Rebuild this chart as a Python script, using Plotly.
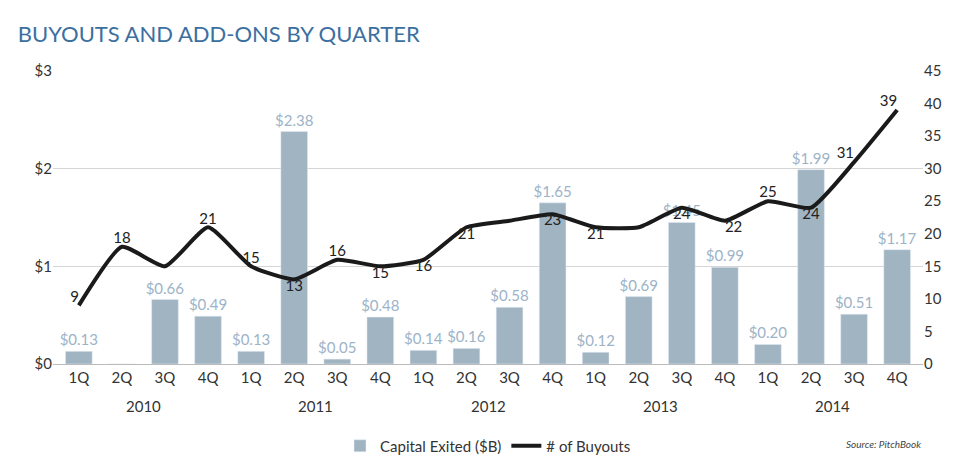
import plotly.graph_objects as go

quarters = ["1Q", "2Q", "3Q", "4Q"] * 5
years = ["2010", "2011", "2012", "2013", "2014"]
capital = [0.13, 0, 0.66, 0.49, 0.13, 2.38, 0.05, 0.48, 0.14, 0.16, 0.58, 1.65,
           0.12, 0.69, 1.45, 0.99, 0.20, 1.99, 0.51, 1.17]
buyouts = [9, 18, 15, 21, 15, 13, 16, 15, 16, 21, 22, 23, 21, 21, 24, 22, 25, 24, 31, 39]
show_lbl = [1, 1, 0, 1, 1, 1, 1, 1, 1, 1, 0, 1, 1, 0, 1, 1, 1, 1, 1, 1]
lbl_pos = ["top left", "top center", "top center", "top center", "top center", "bottom center",
           "top center", "bottom center", "bottom center", "bottom center", "top center",
           "bottom center", "bottom center", "top center", "bottom center", "bottom right",
           "top center", "bottom center", "top left", "top left"]

x = list(range(len(quarters)))
bar_txt = ["" if v == 0 else f"${v:.2f}" for v in capital]

fig = go.Figure()
fig.add_trace(go.Bar(x=x, y=capital, name="Capital Exited ($B)", marker_color="#a1b4c2",
                     width=0.62, text=bar_txt, textposition="outside", cliponaxis=False,
                     constraintext="none",
                     textfont=dict(color="#9db3c7", size=15)))
fig.add_trace(go.Scatter(x=x, y=buyouts, name="# of Buyouts", yaxis="y2", mode="lines+text",
                         line=dict(color="#1a1a1a", width=4, shape="spline", smoothing=0.5),
                         text=[str(b) if s else "" for b, s in zip(buyouts, show_lbl)],
                         textposition=lbl_pos, cliponaxis=False,
                         textfont=dict(color="#222", size=15)))

for i, yr in enumerate(years):
    fig.add_annotation(x=i * 4 + 1.5, y=-0.18, xref="x", yref="paper", text=yr,
                       showarrow=False, font=dict(size=15, color="#333"))
fig.add_annotation(x=1.0, y=-0.3, xref="paper", yref="paper", text="<i>Source: PitchBook</i>",
                   showarrow=False, xanchor="right", font=dict(size=10, color="#444"))

fig.update_layout(
    width=975, height=467, plot_bgcolor="white", paper_bgcolor="white",
    font=dict(family="Lato, Open Sans, sans-serif", color="#333"),
    title=dict(text="BUYOUTS AND ADD-ONS BY QUARTER", x=0.01, y=0.96,
               font=dict(size=22, color="#3b6fa0")),
    margin=dict(l=45, r=60, t=63, b=109),
    bargap=0.38,
    xaxis=dict(tickmode="array", tickvals=x, ticktext=quarters, range=[-0.6, 19.6],
               tickfont=dict(size=15), showgrid=False, zeroline=False,
               showline=True, linecolor="#bbb"),
    yaxis=dict(range=[0, 3], tickvals=[0, 1, 2, 3], ticktext=["$0", "$1", "$2", "$3"],
               gridcolor="#d5d5d5", zeroline=False, tickfont=dict(size=15)),
    yaxis2=dict(range=[0, 45], dtick=5, overlaying="y", side="right", showgrid=False,
                zeroline=False, tickfont=dict(size=15)),
    legend=dict(orientation="h", x=0.5, xanchor="center", yanchor="middle", y=-0.28,
                font=dict(size=15)),
)
fig.write_html("out.html")
